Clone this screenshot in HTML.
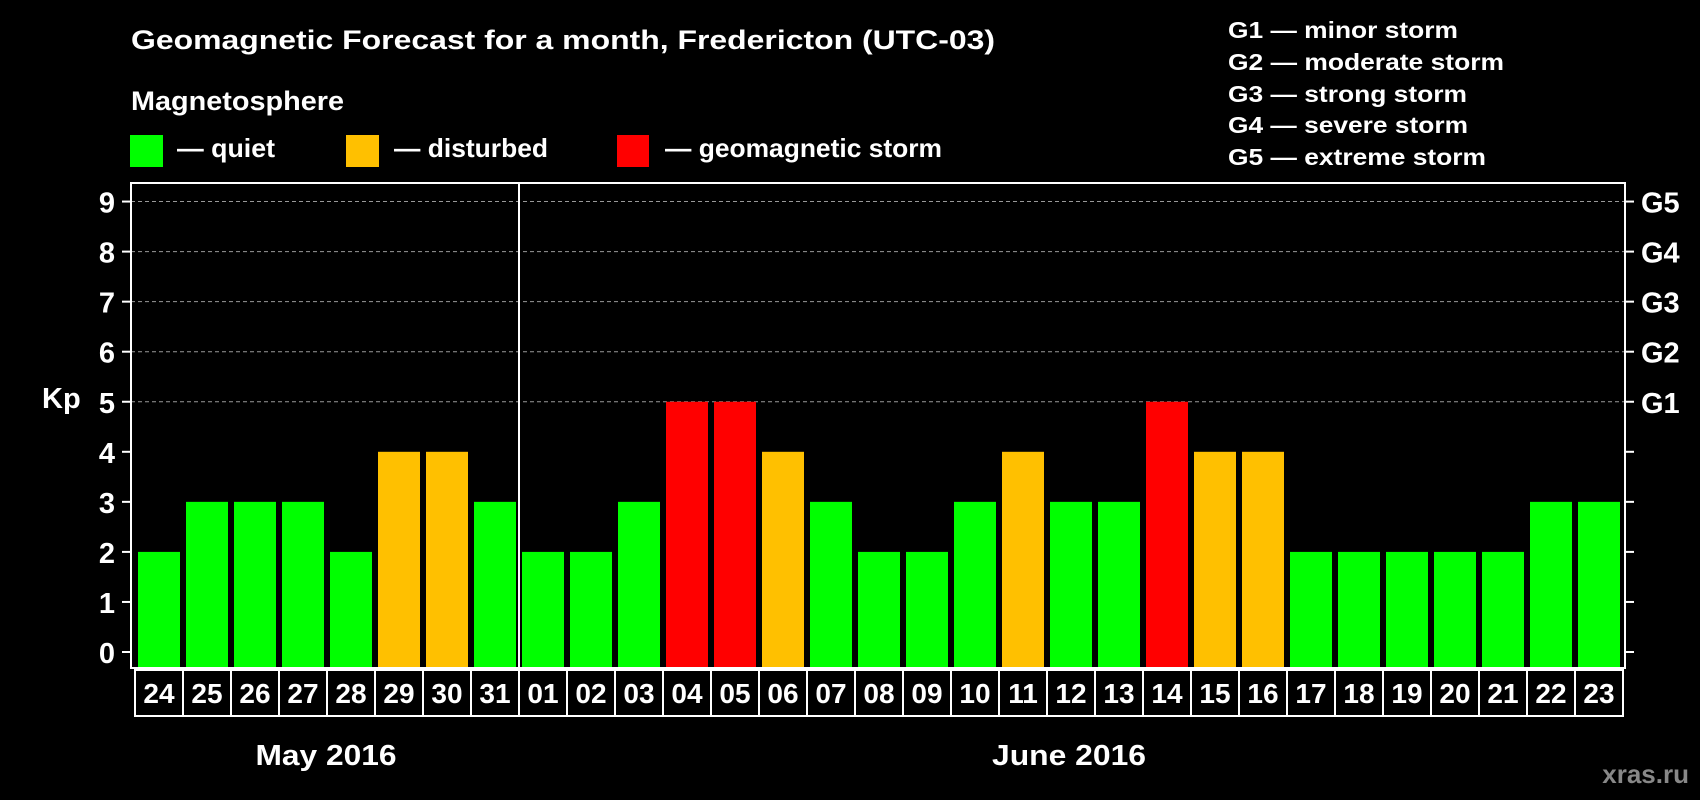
<!DOCTYPE html>
<html><head><meta charset="utf-8"><style>
html,body{margin:0;padding:0;background:#000;}
svg{display:block;font-family:"Liberation Sans",sans-serif;font-weight:bold;}
</style></head><body>
<svg id="chart" width="1700" height="800" viewBox="0 0 1700 800">
<rect width="1700" height="800" fill="#000"/>
<text x="131" y="49" fill="#fff" font-size="27" textLength="864" lengthAdjust="spacingAndGlyphs">Geomagnetic Forecast for a month, Fredericton (UTC-03)</text>
<text x="131" y="110" fill="#fff" font-size="27" textLength="213" lengthAdjust="spacingAndGlyphs">Magnetosphere</text>
<g>
<rect x="130" y="135" width="33" height="32" fill="#00ff00"/>
<text x="177" y="157" fill="#fff" font-size="26" textLength="98" lengthAdjust="spacingAndGlyphs">— quiet</text></g>
<g>
<rect x="346" y="135" width="33" height="32" fill="#ffc000"/>
<text x="394" y="157" fill="#fff" font-size="26" textLength="154" lengthAdjust="spacingAndGlyphs">— disturbed</text></g>
<g>
<rect x="617" y="135" width="32" height="32" fill="#ff0000"/>
<text x="665" y="157" fill="#fff" font-size="26" textLength="277" lengthAdjust="spacingAndGlyphs">— geomagnetic storm</text></g>
<g fill="#fff" font-size="23">
<text x="1228" y="38" textLength="230" lengthAdjust="spacingAndGlyphs">G1 — minor storm</text>
<text x="1228" y="70" textLength="276" lengthAdjust="spacingAndGlyphs">G2 — moderate storm</text>
<text x="1228" y="102" textLength="239" lengthAdjust="spacingAndGlyphs">G3 — strong storm</text>
<text x="1228" y="133" textLength="240" lengthAdjust="spacingAndGlyphs">G4 — severe storm</text>
<text x="1228" y="165" textLength="258" lengthAdjust="spacingAndGlyphs">G5 — extreme storm</text>
</g>
<g id="grid"></g>
<g id="bars"></g>
<g id="axes"></g>
<text x="42" y="408" fill="#fff" font-size="29">Kp</text>
<text x="326" y="765" fill="#fff" font-size="29" text-anchor="middle" textLength="141" lengthAdjust="spacingAndGlyphs">May 2016</text>
<text x="1069" y="765" fill="#fff" font-size="29" text-anchor="middle" textLength="154" lengthAdjust="spacingAndGlyphs">June 2016</text>
<text x="1689" y="783" fill="#888" font-size="26" text-anchor="end">xras.ru</text>
</svg>
<script>
const days = ["24","25","26","27","28","29","30","31","01","02","03","04","05","06","07","08","09","10","11","12","13","14","15","16","17","18","19","20","21","22","23"];
const kp = [2,3,3,3,2,4,4,3,2,2,3,5,5,4,3,2,2,3,4,3,3,5,4,4,2,2,2,2,2,3,3];
const yTicks = [0,1,2,3,4,5,6,7,8,9];
const gLabels = ["G1","G2","G3","G4","G5"];
const gLevels = [5,6,7,8,9];
const monthBreakIndex = 8;

const NS = "http://www.w3.org/2000/svg";
const plotL = 131, plotR = 1625, plotT = 183, plotB = 668;
const y0 = 652, unit = 50.05;
const x0 = 138, pitch = 48, barW = 42;
function yScale(v){ return y0 - v*unit; }
function xScale(i){ return x0 + i*pitch; }
function mk(tag, attrs, parent){ const e=document.createElementNS(NS,tag); for(const k in attrs) e.setAttribute(k,attrs[k]); parent.appendChild(e); return e; }
function color(v){ return v>=5 ? "#ff0000" : (v>=4 ? "#ffc000" : "#00ff00"); }

const grid = document.getElementById("grid");
const bars = document.getElementById("bars");
const axes = document.getElementById("axes");

gLevels.forEach((lv,i)=>{
  const l = mk("line",{x1:plotL,x2:plotR,y1:yScale(lv),y2:yScale(lv),stroke:"#999","stroke-width":1,"stroke-dasharray":"4,3"},grid);
  
  
  const t = mk("text",{x:1641,y:yScale(lv)+11,fill:"#fff","font-size":29},axes);
  t.textContent = gLabels[i];
  
  
});

kp.forEach((v,i)=>{
  const r = mk("rect",{x:xScale(i),y:yScale(v),width:barW,height:y0+16-yScale(v),fill:color(v)},bars);
  
  
});

mk("rect",{x:plotL,y:plotT,width:plotR-plotL,height:plotB-plotT,fill:"none",stroke:"#fff","stroke-width":2},axes);
const sep = mk("line",{x1:xScale(monthBreakIndex)-3,x2:xScale(monthBreakIndex)-3,y1:plotT,y2:plotB,stroke:"#fff","stroke-width":2},axes);



yTicks.forEach(v=>{
  const y=yScale(v);
  mk("line",{x1:122,x2:plotL,y1:y,y2:y,stroke:"#fff","stroke-width":2},axes);
  mk("line",{x1:plotR,x2:1634,y1:y,y2:y,stroke:"#fff","stroke-width":2},axes);
  const t = mk("text",{x:115,y:y+11,fill:"#fff","font-size":29,"text-anchor":"end"},axes);
  t.textContent = v;
  
  
});

const boxT=670, boxB=716;
days.forEach((d,i)=>{
  const left = xScale(i)-3;
  const r = mk("rect",{x:left,y:boxT,width:pitch,height:boxB-boxT,fill:"#000",stroke:"#fff","stroke-width":2},axes);
  
  
  const t = mk("text",{x:left+pitch/2,y:703,fill:"#fff","font-size":28,"text-anchor":"middle"},axes);
  t.textContent = d;
  
  
});
</script>
</body></html>
